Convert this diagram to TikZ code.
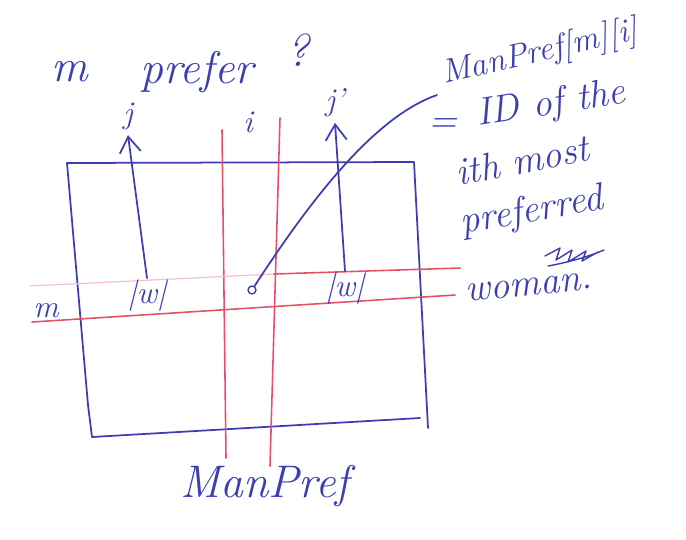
\documentclass[tikz,border=0pt]{standalone}
\usepackage{fontspec}
\usetikzlibrary{arrows.meta,positioning,calc}
\definecolor{inkblue}{RGB}{62,62,178}
\definecolor{inkred}{RGB}{232,78,104}

\begin{document}
\begin{tikzpicture}[
  x=0.02cm,y=-0.02cm,
  hand/.style={text=inkblue,font=\fontsize{26}{28}\selectfont\itshape,inner sep=1pt},
  note/.style={text=inkblue,font=\fontsize{22}{24}\selectfont\itshape,inner sep=0pt,anchor=base west},
  lbl/.style={text=inkblue,font=\fontsize{18}{20}\selectfont\itshape,inner sep=1pt},
  blueln/.style={draw=inkblue,line width=1pt,line cap=round,line join=round},
  redln/.style={draw=inkred,line width=0.9pt,line cap=round},
  faint/.style={draw=inkred!35,line width=0.7pt,line cap=round},
  arr/.style={blueln,-{Straight Barb[length=9pt,width=12pt]}}
]
\useasboundingbox (0,0) rectangle (686,539);
% --- question on top ---
\node[hand](m1)   at(70,72){m};
\node[hand](pref) at(197,72){prefer};
\node[hand](qm)   at(298,50){?};
% --- matrix outline ---
\draw[blueln] (67,163) -- (414,162) -- (428,428);
\draw[blueln] (67,163) -- (88,405) -- (92,437) -- (420,418);
% --- red column i ---
\draw[redln] (222,130) -- (226,458);
\draw[redln] (280,118) -- (270,466);
% --- red row m ---
\draw[faint] (30,286) -- (274,274);
\draw[redln] (274,274) -- (460,268);
\draw[redln] (32,322) -- (455,295);
\node[lbl](mrow) at(46,311){m};
% --- entries in row m ---
\node[lbl](w1)  at(147,296){|w|};
\node[lbl](w2)  at(345,289){|w|};
\node[lbl](j1)  at(128,116){j};
\node[lbl](j2)  at(335,103){j'};
\node[lbl](ci)  at(248,122){i};
\draw[arr] (w1.north) -- ([yshift=-2pt]j1.south);
\draw[arr] (w2.north) -- ([yshift=-2pt]j2.south);
% --- cell (m,i) pointing at the note ---
\node[circle,draw=inkblue,thick,inner sep=1.6pt](cell) at(252,290){};
\coordinate (lend) at(437,95);
\draw[blueln] (cell) .. controls (320,185) and (380,115) .. (lend);
% --- note on the right ---
\node[note,rotate=13,font=\fontsize{19}{21}\selectfont\itshape](n1) at(444,84){ManPref[m][i]};
\node[note](eq) at(428,132){=};
\node[note,rotate=9](n2) at(478,126){ID of the};
\node[note,rotate=11](n3) at(458,186){ith most};
\node[note,rotate=10](n4) at(462,234){preferred};
\draw[blueln,line width=0.8pt] (545,256) -- (560,248) -- (556,260) -- (572,250) -- (568,262) -- (586,251)
  -- (582,261) -- (598,252) (548,266) .. controls (570,262) and (590,256) .. (604,250);
\node[note,rotate=6](n5) at(466,302){woman.};
% --- bottom label ---
\node[hand](mp) at(265,486){ManPref};
\end{tikzpicture}
\end{document}
